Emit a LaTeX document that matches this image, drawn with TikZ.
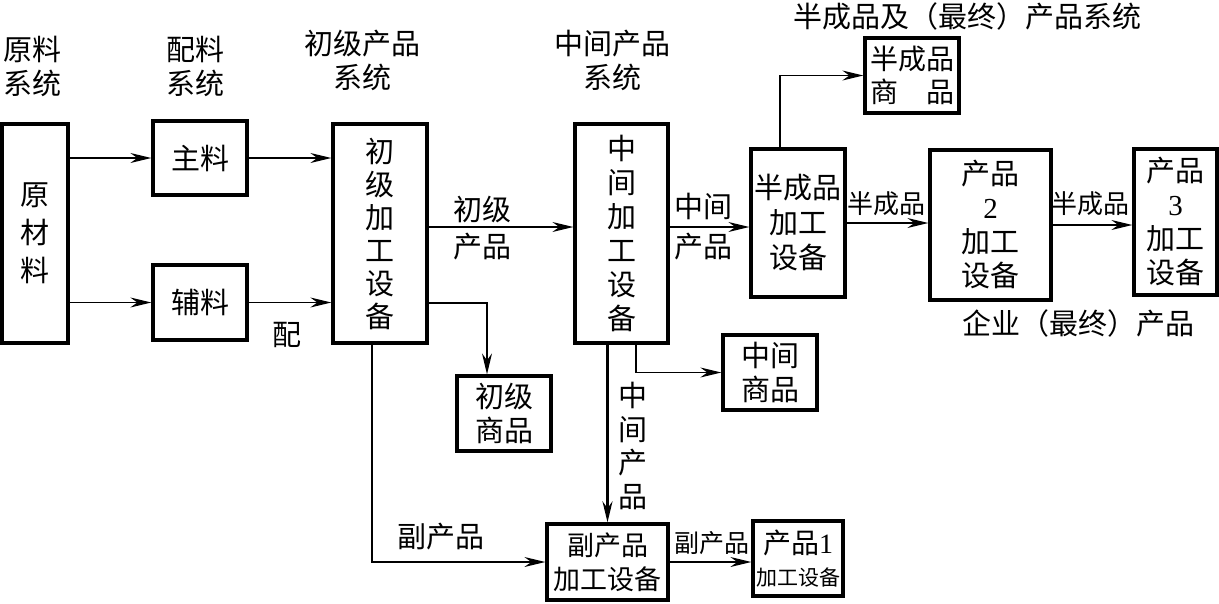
\documentclass[tikz,border=0pt]{standalone}
\usepackage{fontspec}
\setmainfont{Liberation Serif}
\newfontfamily\cjk{Noto Sans CJK SC}
\usetikzlibrary{arrows.meta}
\begin{document}
\begin{tikzpicture}[x=1pt,y=-1pt,
  box/.style={draw, line width=3.3pt, inner sep=0pt, align=center, font=\cjk\fontsize{29}{34}\selectfont},
  lbl/.style={inner sep=0pt, align=center, font=\cjk\fontsize{29}{34}\selectfont},
  arr/.style={line width=1.4pt, -{Stealth[length=21pt,width=10pt,inset=7pt]}},
]
\useasboundingbox (0,0) rectangle (1219,603);
% headers
\node[lbl] (h1) at (32,66) {原料\\系统};
\node[lbl] (h2) at (195,66) {配料\\系统};
\node[lbl] (h3) at (362,60) {初级产品\\系统};
\node[lbl] (h4) at (612,60) {中间产品\\系统};
\node[lbl] (h5) at (967,16) {半成品及（最终）产品系统};
\node[lbl] (h6) at (1078,323) {企业（最终）产品};
% boxes
\node[box, minimum width=66pt, minimum height=219pt, font=\cjk\fontsize{29}{38}\selectfont] (raw) at (35,233.5) {原\\材\\料};
\node[box, minimum width=94pt, minimum height=74pt] (zhu) at (200,158) {主料};
\node[box, minimum width=94pt, minimum height=75pt] (fu) at (200,302.5) {辅料};
\node[box, minimum width=94pt, minimum height=219pt, font=\cjk\fontsize{29}{33}\selectfont] (chuji) at (380,233.5) {初\\级\\加\\工\\设\\备};
\node[box, minimum width=93pt, minimum height=219pt, font=\cjk\fontsize{29}{34}\selectfont] (zhj) at (621.5,233.5) {中\\间\\加\\工\\设\\备};
\node[box, minimum width=94pt, minimum height=148pt, font=\cjk\fontsize{29}{35}\selectfont] (banjg) at (798,223) {半成品\\加工\\设备};
\node[box, minimum width=94pt, minimum height=75pt, font=\cjk\fontsize{28}{33}\selectfont] (banshp) at (912,75.5) {半成品\\\makebox[3em]{商\hfill 品}};
\node[box, minimum width=121pt, minimum height=150pt] (p2) at (990.5,225) {产品\\{\rmfamily 2}\\加工\\设备};
\node[box, minimum width=83pt, minimum height=146pt] (p3) at (1175.5,222) {产品\\{\rmfamily 3}\\加工\\设备};
\node[box, minimum width=94pt, minimum height=75pt] (chusp) at (504,413.5) {初级\\商品};
\node[box, minimum width=94pt, minimum height=75pt] (zhsp) at (770,372.5) {中间\\商品};
\node[box, minimum width=121pt, minimum height=76pt, font=\cjk\fontsize{27}{34}\selectfont] (fujg) at (607.5,562) {副产品\\加工设备};
\node[box, minimum width=90pt, minimum height=75pt, font=\cjk\fontsize{28}{32}\selectfont] (p1) at (798,558.5) {产品{\rmfamily 1}\\{\fontsize{21}{24}\selectfont 加工设备}};
% arrows
\draw[arr] (raw.east |- zhu.west) -- (zhu.west);
\draw[arr] (zhu.east) -- (zhu.east -| chuji.west);
\draw[arr] (raw.east |- fu.west) -- (fu.west);
\draw[arr] (fu.east) -- (fu.east -| chuji.west);
\coordinate (a1) at ([yshift=6.5pt]chuji.east);
\draw[arr] (a1) -- (a1 -| zhj.west);
\coordinate (a2) at ([yshift=6.5pt]zhj.east);
\draw[arr] (a2) -- (a2 -| banjg.west);
\draw[arr] ([xshift=-18pt]banjg.north) |- (banshp.west);
\draw[arr] (banjg.east) -- (banjg.east -| p2.west);
\draw[arr] (p2.east) -- (p2.east -| p3.west);
\draw[arr] ([yshift=-69.5pt]chuji.east) -| ([xshift=-17pt]chusp.north);
\draw[arr] ([xshift=-8pt]chuji.south) |- (fujg.west);
\draw[arr, line width=2.6pt] (fujg.north |- zhj.south) -- (fujg.north);
\draw[arr] ([xshift=14.5pt]zhj.south) |- (zhsp.west);
\draw[arr] (fujg.east) -- (fujg.east -| p1.west);
% labels
\node[lbl, font=\cjk\fontsize{29}{37}\selectfont] (l1) at (482,228) {初级\\产品};
\node[lbl, font=\cjk\fontsize{29}{40}\selectfont] (l2) at (703,227) {中间\\产品};
\node[lbl, font=\cjk\fontsize{26}{30}\selectfont] (l3) at (886,204) {半成品};
\node[lbl, font=\cjk\fontsize{26}{30}\selectfont] (l4) at (1090,204) {半成品};
\node[lbl] (l5) at (441,537) {副产品};
\node[lbl, font=\cjk\fontsize{25}{30}\selectfont] (l6) at (712,543) {副产品};
\node[lbl, font=\cjk\fontsize{29}{33.5}\selectfont] (l7) at (633,446) {中\\间\\产\\品};
\node[lbl] (l8) at (287,335) {配};
\end{tikzpicture}
\end{document}
